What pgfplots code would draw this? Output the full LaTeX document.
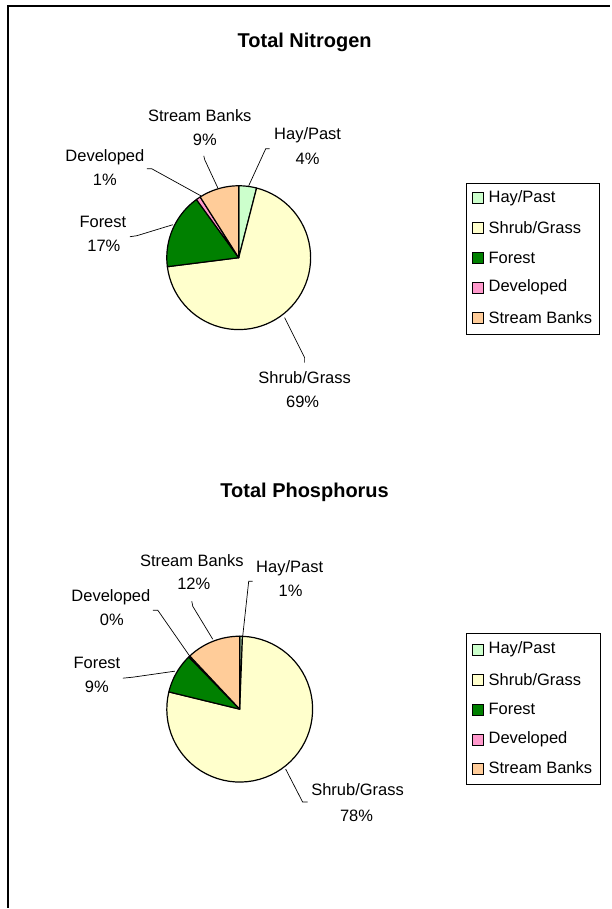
\documentclass[border=0pt]{standalone}
\usepackage{pgfplots}
\pgfplotsset{compat=1.18}
\usepackage{fontspec}
\setmainfont{Liberation Sans}
\definecolor{hay}{HTML}{CCFFCC}
\definecolor{shrub}{HTML}{FFFFCC}
\definecolor{forest}{HTML}{008000}
\definecolor{devel}{HTML}{FF99CC}
\definecolor{stream}{HTML}{FFCC99}
% data (percent)
\def\NHay{4}\def\NShrub{69}\def\NForest{17}\def\NDev{1}\def\NStream{9}
\def\PHay{0.6}\def\PShrub{78.2}\def\PForest{8.9}\def\PDev{0.3}\def\PStream{12.0}
\newcommand{\pieslice}[6]{%
  \addplot[draw=black, line width=1.2pt, line join=round, fill=#6, domain=#4:#5, samples=60, variable=\t]
    ({#1+#3*cos(\t)},{#2-#3*sin(\t)}) -- (axis cs:#1,#2) -- cycle;
}
\newcommand{\lab}[3]{\node[font=\fontsize{16.5}{19}\selectfont, inner sep=0pt] at (axis cs:#1,#2) {#3};}
\newcommand{\legitem}[3]{%
  \draw[black, line width=0.8pt, fill=#2] (axis cs:473,#1-5) rectangle (axis cs:484,#1+6);
  \node[font=\fontsize{16.5}{19}\selectfont, anchor=west, inner sep=0pt] at (axis cs:489,#1) {#3};
}
\begin{document}
\begin{tikzpicture}
\pgfmathsetmacro\NangA{90}
\pgfmathsetmacro\NangB{\NangA-3.6*\NHay}
\pgfmathsetmacro\NangC{\NangB-3.6*\NShrub}
\pgfmathsetmacro\NangD{\NangC-3.6*\NForest}
\pgfmathsetmacro\NangE{\NangD-3.6*\NDev}
\pgfmathsetmacro\NangF{\NangE-3.6*\NStream}
\pgfmathsetmacro\PangA{90}
\pgfmathsetmacro\PangB{\PangA-3.6*\PHay}
\pgfmathsetmacro\PangC{\PangB-3.6*\PShrub}
\pgfmathsetmacro\PangD{\PangC-3.6*\PForest}
\pgfmathsetmacro\PangE{\PangD-3.6*\PDev}
\pgfmathsetmacro\PangF{\PangE-3.6*\PStream}
\begin{axis}[
  x=1pt, y=1pt, xmin=0, xmax=611, ymin=0, ymax=909, y dir=reverse,
  hide axis, clip=false, scale only axis,
]
\path (axis cs:0,0) rectangle (axis cs:611,909);
% frame
\draw[black, line width=2.2pt] (axis cs:8,909) -- (axis cs:8,6) -- (axis cs:611,6);
% ---------- Nitrogen ----------
\node[font=\fontsize{20}{24}\selectfont\bfseries, inner sep=0pt] at (axis cs:305,42) {Total Nitrogen};
\pieslice{239}{258}{72}{\NangB}{\NangA}{hay}
\pieslice{239}{258}{72}{\NangC}{\NangB}{shrub}
\pieslice{239}{258}{72}{\NangD}{\NangC}{forest}
\pieslice{239}{258}{72}{\NangE}{\NangD}{devel}
\pieslice{239}{258}{72}{\NangF}{\NangE}{stream}
\draw[black, line width=0.7pt] (axis cs:270,149) -- (axis cs:266,149) -- (axis cs:249,186);
\draw[black, line width=0.7pt] (axis cs:204,156) -- (axis cs:205,160) -- (axis cs:218,188);
\draw[black, line width=0.7pt] (axis cs:147,169) -- (axis cs:152,169) -- (axis cs:201,196);
\draw[black, line width=0.7pt] (axis cs:130,237) -- (axis cs:137,236) -- (axis cs:173,225);
\draw[black, line width=0.7pt] (axis cs:285,318) -- (axis cs:305,358) -- (axis cs:305,363);
\lab{308}{135}{Hay/Past}\lab{308}{159}{4\%}
\lab{200}{116}{Stream Banks}\lab{205}{140}{9\%}
\lab{105}{157}{Developed}\lab{105}{180}{1\%}
\lab{103}{222}{Forest}\lab{104}{246}{17\%}
\lab{305}{378}{Shrub/Grass}\lab{303}{402}{69\%}
\draw[black, line width=0.8pt] (axis cs:467,184) rectangle (axis cs:600,335);
\legitem{198}{hay}{Hay/Past}
\legitem{228}{shrub}{Shrub/Grass}
\legitem{258}{forest}{Forest}
\legitem{288}{devel}{Developed}
\legitem{318}{stream}{Stream Banks}
% ---------- Phosphorus ----------
\node[font=\fontsize{20}{24}\selectfont\bfseries, inner sep=0pt] at (axis cs:305,493) {Total Phosphorus};
\pieslice{240}{710}{73}{\PangB}{\PangA}{hay}
\pieslice{240}{710}{73}{\PangC}{\PangB}{shrub}
\pieslice{240}{710}{73}{\PangD}{\PangC}{forest}
\pieslice{240}{710}{73}{\PangE}{\PangD}{devel}
\pieslice{240}{710}{73}{\PangF}{\PangE}{stream}
\draw[black, line width=0.7pt] (axis cs:253,582) -- (axis cs:249,582) -- (axis cs:243,637);
\draw[black, line width=0.7pt] (axis cs:192,602) -- (axis cs:193,607) -- (axis cs:213,640);
\draw[black, line width=0.7pt] (axis cs:153,611) -- (axis cs:158,611) -- (axis cs:190,657);
\draw[black, line width=0.7pt] (axis cs:123,679) -- (axis cs:133,678) -- (axis cs:175,672);
\draw[black, line width=0.7pt] (axis cs:286,770) -- (axis cs:303,803) -- (axis cs:308,803);
\lab{192}{561}{Stream Banks}\lab{194}{584}{12\%}
\lab{290}{569}{Hay/Past}\lab{291}{592}{1\%}
\lab{111}{598}{Developed}\lab{112}{621}{0\%}
\lab{97}{664}{Forest}\lab{97}{688}{9\%}
\lab{358}{791}{Shrub/Grass}\lab{357}{817}{78\%}
\draw[black, line width=0.8pt] (axis cs:467,634) rectangle (axis cs:601,785);
\legitem{650}{hay}{Hay/Past}
\legitem{680}{shrub}{Shrub/Grass}
\legitem{710}{forest}{Forest}
\legitem{740}{devel}{Developed}
\legitem{769}{stream}{Stream Banks}
\end{axis}
\end{tikzpicture}
\end{document}
